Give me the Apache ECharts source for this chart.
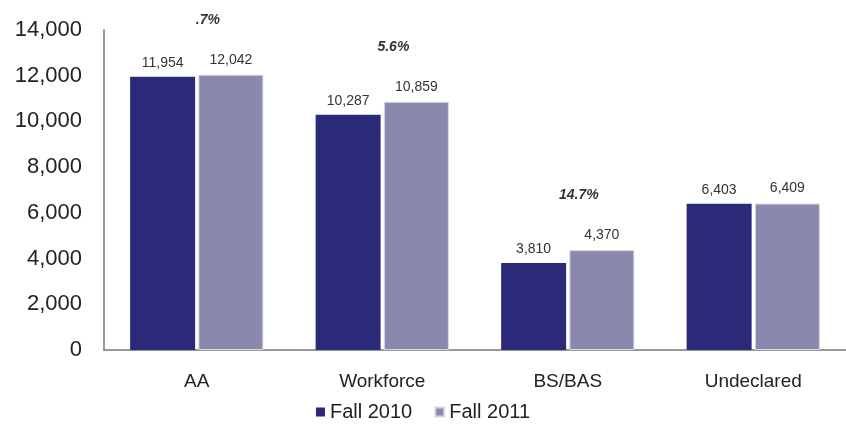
<!DOCTYPE html>
<html><head><meta charset="utf-8">
<script src="https://cdn.jsdelivr.net/npm/echarts@6/dist/echarts.min.js"></script>
<style>html,body{margin:0;padding:0;background:#fff}#c{width:846px;height:427px}</style>
</head><body><div id="c"></div>
<script>
const categories = ['AA', 'Workforce', 'BS/BAS', 'Undeclared'];
const fall2010 = [11954, 10287, 3810, 6403];
const fall2011 = [12042, 10859, 4370, 6409];
const pctLabels = ['.7%', '5.6%', '14.7%', ''];
const yTicks = [0, 2000, 4000, 6000, 8000, 10000, 12000, 14000];

const chart = echarts.init(document.getElementById('c'));
const fmt = v => v.toLocaleString('en-US');
const font = 'Arial, "Liberation Sans", sans-serif';
chart.setOption({
  animation: false,
  grid: { left: 104, right: -2, top: 30, bottom: 77 },
  legend: {
    bottom: 0, left: 'center', itemWidth: 9, itemHeight: 9, itemGap: 22,
    icon: 'rect',
    textStyle: { fontSize: 20, color: '#222', fontFamily: font },
    data: ['Fall 2010', 'Fall 2011']
  },
  xAxis: {
    type: 'category', data: categories,
    axisLine: { lineStyle: { color: '#999', width: 2 } },
    axisTick: { show: false },
    axisLabel: { fontSize: 19, color: '#222', fontFamily: font, margin: 22 }
  },
  yAxis: {
    type: 'value', min: yTicks[0], max: yTicks[yTicks.length - 1], interval: 2000,
    axisLine: { show: true, lineStyle: { color: '#999', width: 2 } },
    axisTick: { show: false },
    splitLine: { show: false },
    axisLabel: { fontSize: 22, color: '#222', fontFamily: font, margin: 22, formatter: v => fmt(v) }
  },
  series: [
    {
      name: 'Fall 2010', type: 'bar', data: fall2010, barWidth: 65, barGap: '5%',
      itemStyle: { color: '#2B2A78' },
      label: { show: true, position: 'top', distance: 7, fontSize: 14, color: '#333', fontFamily: font, formatter: p => fmt(p.value) }
    },
    {
      name: 'Fall 2011', type: 'bar', data: fall2011, barWidth: 65,
      itemStyle: { color: '#8988AD', borderColor: '#d8d8e4', borderWidth: 1 },
      label: {
        show: true, position: 'top', distance: 7, fontFamily: font, align: 'center',
        formatter: p => pctLabels[p.dataIndex]
          ? '{p|' + pctLabels[p.dataIndex] + '}\n{v|' + fmt(p.value) + '}'
          : '{v|' + fmt(p.value) + '}',
        rich: {
          p: { fontSize: 14, fontWeight: 'bold', fontStyle: 'italic', color: '#333', lineHeight: 64, padding: [0, 46, 0, 0], fontFamily: font },
          v: { fontSize: 14, color: '#333', lineHeight: 16, fontFamily: font }
        }
      }
    }
  ]
});
</script></body></html>
